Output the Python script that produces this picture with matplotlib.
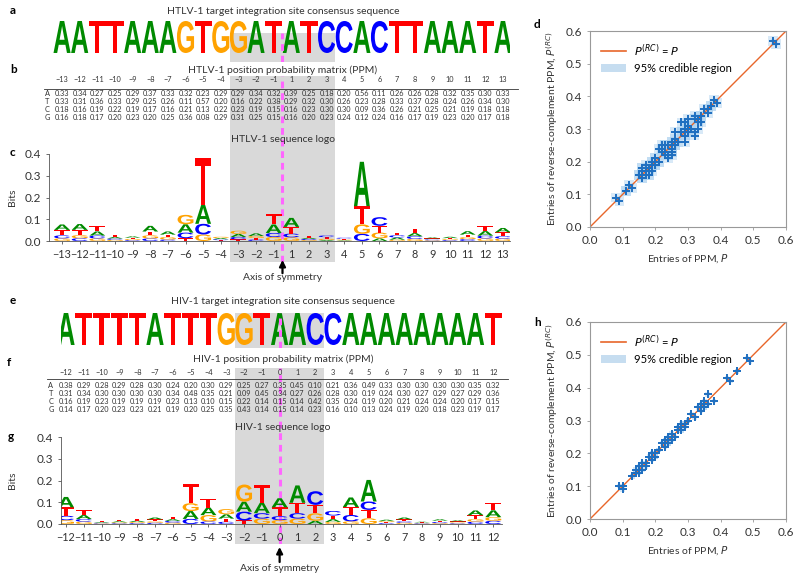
import matplotlib.pyplot as plt
import matplotlib.transforms as mtransforms
from matplotlib.textpath import TextPath
from matplotlib.patches import PathPatch, Rectangle, Patch
from matplotlib.font_manager import FontProperties
from matplotlib.lines import Line2D
import numpy as np

plt.rcParams['font.family'] = ['Lato', 'DejaVu Sans']

bases = ['A', 'T', 'C', 'G']

# HTLV-1 position probability matrix
htlv_positions = list(range(-13, 0)) + list(range(1, 14))
htlv_consensus = "AATTAAAGTGGATATCCACTTAAATA"
htlv_A = [0.33, 0.34, 0.27, 0.25, 0.29, 0.37, 0.33, 0.32, 0.23, 0.29, 0.29, 0.34, 0.32,
          0.39, 0.25, 0.18, 0.20, 0.56, 0.11, 0.26, 0.26, 0.28, 0.32, 0.35, 0.30, 0.33]
htlv_T = [0.33, 0.31, 0.36, 0.33, 0.29, 0.25, 0.26, 0.11, 0.57, 0.20, 0.16, 0.22, 0.38,
          0.29, 0.32, 0.30, 0.26, 0.23, 0.28, 0.33, 0.37, 0.28, 0.24, 0.26, 0.34, 0.30]
htlv_C = [0.18, 0.16, 0.19, 0.22, 0.19, 0.17, 0.16, 0.21, 0.13, 0.22, 0.23, 0.19, 0.15,
          0.16, 0.23, 0.30, 0.30, 0.09, 0.36, 0.26, 0.21, 0.25, 0.21, 0.19, 0.18, 0.18]
htlv_G = [0.16, 0.18, 0.17, 0.20, 0.23, 0.20, 0.25, 0.36, 0.08, 0.29, 0.31, 0.25, 0.15,
          0.16, 0.20, 0.23, 0.24, 0.12, 0.24, 0.16, 0.17, 0.19, 0.23, 0.20, 0.17, 0.18]
htlv_ci = 0.015  # approx half-width of credible boxes

# HIV-1 position probability matrix
hiv_positions = list(range(-12, 13))
hiv_consensus = "ATTTTATTTGGTAACCAAAAAAAAT"
hiv_A = [0.38, 0.29, 0.28, 0.29, 0.28, 0.30, 0.24, 0.20, 0.30, 0.29, 0.25, 0.27, 0.35,
         0.45, 0.10, 0.21, 0.36, 0.49, 0.33, 0.30, 0.30, 0.30, 0.30, 0.35, 0.32]
hiv_T = [0.31, 0.34, 0.30, 0.30, 0.30, 0.30, 0.34, 0.48, 0.35, 0.21, 0.09, 0.45, 0.34,
         0.27, 0.26, 0.28, 0.30, 0.19, 0.24, 0.30, 0.27, 0.29, 0.27, 0.29, 0.36]
hiv_C = [0.16, 0.19, 0.23, 0.19, 0.19, 0.19, 0.23, 0.13, 0.10, 0.15, 0.22, 0.14, 0.15,
         0.14, 0.42, 0.35, 0.24, 0.19, 0.20, 0.21, 0.24, 0.24, 0.20, 0.17, 0.15]
hiv_G = [0.14, 0.17, 0.20, 0.23, 0.23, 0.21, 0.19, 0.20, 0.25, 0.35, 0.43, 0.14, 0.15,
         0.14, 0.23, 0.16, 0.10, 0.13, 0.24, 0.19, 0.20, 0.18, 0.23, 0.19, 0.17]
hiv_ci = 0.007

colors = {'A': '#008a00', 'T': '#ff0000', 'C': '#0000ff', 'G': '#ffa200'}
GRAY = '#d9d9d9'
PINK = '#ff66ff'
TXT = '#333333'

W, H = 800, 581
fig = plt.figure(figsize=(8, 5.81), dpi=100)


def px_axes(x0, y0, x1, y1):
    return fig.add_axes([x0 / W, 1 - y1 / H, (x1 - x0) / W, (y1 - y0) / H])


letter_font = FontProperties(family='Liberation Sans', weight='bold')


def draw_letter(ax, ch, x, y, w, h, color):
    tp = TextPath((0, 0), ch, size=1, prop=letter_font)
    bb = tp.get_extents()
    t = (mtransforms.Affine2D().translate(-bb.x0, -bb.y0)
         .scale(w / bb.width, h / bb.height).translate(x - w / 2, y))
    ax.add_patch(PathPatch(t.transform_path(tp), fc=color, ec='none', lw=0))


def fmt_pos(p):
    return str(p).replace('-', '\u2212')


def left_column(name, positions, consensus, ppm, lay):
    n = len(positions)
    xlim = lay['xlim']
    gx0, gx1 = lay['gray']
    axis_x = lay['axis_x']

    # background shading across table + logo
    bg = px_axes(lay['x0'], lay['bg'][0], lay['x1'], lay['bg'][1])
    bg.set_xlim(*xlim)
    bg.set_ylim(0, 1)
    bg.axvspan(gx0, gx1, color=GRAY, lw=0)
    bg.axvline(axis_x, color=PINK, lw=2.2, ls=(0, (2.2, 1.6)))
    bg.axis('off')

    # consensus sequence
    ca = px_axes(lay['x0'], lay['cons'][0], lay['x1'], lay['cons'][1])
    ca.set_xlim(*xlim)
    ca.set_ylim(0, 1)
    ca.axis('off')
    ca.axvspan(gx0, gx1, ymin=0, ymax=lay['cons_gray'], color=GRAY, lw=0)
    ca.plot([axis_x, axis_x], [0, lay['cons_gray']], color=PINK, lw=2.2,
            ls=(0, (2.2, 1.6)))
    lb = lay['cons_letters']
    for i, ch in enumerate(consensus):
        draw_letter(ca, ch, i, lb, 0.97, 1 - lb, colors[ch])
    fig.text(283 / W, 1 - lay['cons_title'] / H,
             f'{name} target integration site consensus sequence',
             ha='center', va='center', fontsize=7.5, color=TXT)

    # PPM table
    ta = px_axes(lay['x0'], lay['table'][0], lay['x1'], lay['table'][1])
    ta.set_xlim(*xlim)
    ta.set_ylim(*lay['table_ylim'])
    ta.set_facecolor('none')
    ta.axis('off')
    for i, p in enumerate(positions):
        ta.text(i, lay['hdr'], fmt_pos(p), ha='center', va='center', fontsize=5.3,
                color=TXT)
    ta.plot([-1.05, n - 1 + 0.85], [lay['rule'], lay['rule']], color=TXT,
            lw=0.6, clip_on=False)
    for r, b in enumerate(bases):
        ta.text(-0.85, r, b, ha='center', va='center', fontsize=5.3, color=TXT)
        for i in range(n):
            ta.text(i, r, f'{ppm[b][i]:.2f}', ha='center', va='center', fontsize=5.3,
                    color=TXT)
    fig.text(283 / W, 1 - lay['table_title'] / H,
             f'{name} position probability matrix (PPM)',
             ha='center', va='center', fontsize=7.5, color=TXT)

    # sequence logo
    la = px_axes(lay['x0'], lay['logo'][0], lay['x1'], lay['logo'][1])
    la.set_facecolor('none')
    la.set_xlim(*xlim)
    la.set_ylim(0, 0.4)
    probs = np.array([ppm[b] for b in bases])
    for i in range(n):
        p = probs[:, i]
        ent = -np.sum(p * np.log2(p))
        heights = p * (2 - ent)
        y = 0.0
        for k in np.argsort(heights):
            draw_letter(la, bases[k], i, y, 0.9, heights[k], colors[bases[k]])
            y += heights[k]
    la.set_xticks(range(n))
    la.set_xticklabels([fmt_pos(p) for p in positions], fontsize=7.8, color=TXT)
    la.set_yticks([0, 0.1, 0.2, 0.3, 0.4])
    la.set_yticklabels(['0.0', '0.1', '0.2', '0.3', '0.4'], fontsize=8.5, color=TXT)
    la.tick_params(length=2.5, width=0.6, color='#555555', pad=3)
    for s in ['top', 'right']:
        la.spines[s].set_visible(False)
    for s in ['left', 'bottom']:
        la.spines[s].set_color('#555555')
        la.spines[s].set_linewidth(0.6)
    la.set_ylabel('Bits', fontsize=7.5, color=TXT, labelpad=lay['ylpad'])
    la.annotate('', xy=(axis_x, lay['arrow'][0]), xytext=(axis_x, lay['arrow'][1]),
                xycoords=('data', 'axes fraction'),
                arrowprops=dict(arrowstyle='-|>', color='black', lw=1.6,
                                mutation_scale=9, shrinkA=0, shrinkB=0))
    la.text(axis_x, lay['arrow'][2], 'Axis of symmetry', ha='center', va='center',
            fontsize=7.5, color=TXT, transform=la.get_xaxis_transform())
    fig.text(283 / W, 1 - lay['logo_title'] / H, f'{name} sequence logo',
             ha='center', va='center', fontsize=7.5, color=TXT)


def rc_scatter(box, positions, ppm, ci):
    ax = px_axes(*box)
    comp = {'A': 'T', 'T': 'A', 'C': 'G', 'G': 'C'}
    idx = {p: i for i, p in enumerate(positions)}
    xs, ys = [], []
    for p in positions:
        for b in bases:
            xs.append(ppm[b][idx[p]])
            ys.append(ppm[comp[b]][idx[-p]])
    for x, y in zip(xs, ys):
        ax.add_patch(Rectangle((x - ci, y - ci), 2 * ci, 2 * ci, fc='#a9d0ef',
                               alpha=0.45, ec='none'))
    ax.plot([0, 0.6], [0, 0.6], color='#e8662a', lw=1.0)
    ax.plot(xs, ys, '+', color='#1f6fc0', ms=5.5, mew=1.4)
    ax.set_xlim(0, 0.6)
    ax.set_ylim(0, 0.6)
    ticks = [0, 0.1, 0.2, 0.3, 0.4, 0.5, 0.6]
    ax.set_xticks(ticks)
    ax.set_yticks(ticks)
    ax.set_xticklabels([f'{t:.1f}' for t in ticks], fontsize=8.5, color=TXT)
    ax.set_yticklabels([f'{t:.1f}' for t in ticks], fontsize=8.5, color=TXT)
    ax.tick_params(length=2.5, width=0.6, color='#999999', pad=3)
    for s in ax.spines.values():
        s.set_color('#999999')
        s.set_linewidth(0.8)
    ax.set_xlabel(r'Entries of PPM, $P$', fontsize=7.5, color=TXT, labelpad=5)
    ax.set_ylabel(r'Entries of reverse-complement PPM, $P^{(RC)}$', fontsize=7.5,
                  color=TXT, labelpad=4)
    handles = [Line2D([], [], color='#e8662a', lw=1.2),
               Patch(fc='#c6ddf0', ec='none')]
    ax.legend(handles, [r'$P^{(RC)}$ = $P$', '95% credible region'], loc='upper left',
              frameon=False, fontsize=8, handlelength=2.2, borderaxespad=0.6,
              labelspacing=0.4)
    return ax


htlv_ppm = {'A': htlv_A, 'T': htlv_T, 'C': htlv_C, 'G': htlv_G}
hiv_ppm = {'A': hiv_A, 'T': hiv_T, 'C': hiv_C, 'G': hiv_G}

htlv_layout = dict(x0=49, x1=510, xlim=(-0.74, 25.4), gray=(9.5, 15.5), axis_x=12.5,
                   bg=(76, 262), cons=(21, 62), cons_gray=0.71, cons_letters=0.22,
                   cons_title=12, table=(76, 123), table_ylim=(3.625, -2.25),
                   hdr=-1.75, rule=-0.6, table_title=70, logo=(154, 241),
                   logo_title=139, arrow=(-0.218, -0.37, -0.414), ylpad=6)
hiv_layout = dict(x0=61, x1=502, xlim=(-0.28, 24.49), gray=(9.5, 14.5), axis_x=12,
                  bg=(368, 544), cons=(313, 348), cons_gray=1.0, cons_letters=0.086,
                  cons_title=302, table=(368, 416), table_ylim=(3.73, -2.05),
                  hdr=-1.45, rule=-0.72, table_title=359, logo=(437, 524),
                  logo_title=428, arrow=(-0.264, -0.437, -0.517), ylpad=14)

left_column('HTLV-1', htlv_positions, htlv_consensus, htlv_ppm, htlv_layout)
left_column('HIV-1', hiv_positions, hiv_consensus, hiv_ppm, hiv_layout)

rc_scatter((590, 31, 786, 227), htlv_positions, htlv_ppm, htlv_ci)
rc_scatter((590, 322, 786, 519), hiv_positions, hiv_ppm, hiv_ci)

for lab, x, y in [('a', 10, 10), ('b', 10, 70), ('c', 10, 152), ('d', 534, 25),
                  ('e', 10, 301), ('f', 7, 363), ('g', 8, 437), ('h', 534, 322)]:
    fig.text(x / W, 1 - y / H, lab, fontsize=8.5, fontweight='bold', ha='left',
             va='center')

fig.savefig('out.png', dpi=100)
